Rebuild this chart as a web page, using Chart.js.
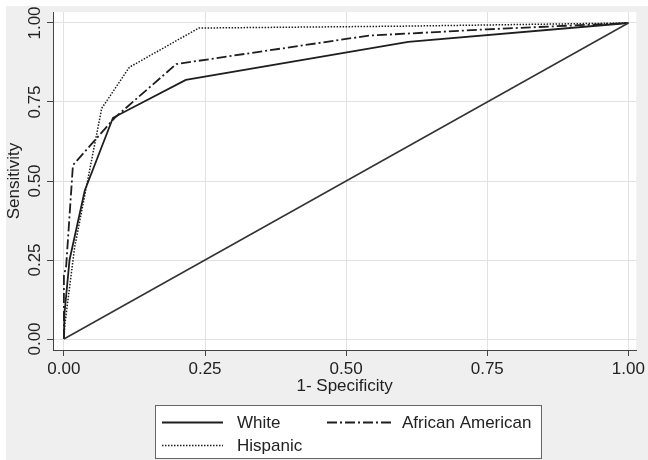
<!DOCTYPE html>
<html><head><meta charset="utf-8">
<script src="https://cdn.jsdelivr.net/npm/chart.js"></script>
<style>html,body{margin:0;padding:0;background:#fff}</style>
</head><body>
<canvas id="c" width="648" height="460"></canvas>
<script>
// ---- data ----
const seriesNames = ['White', 'African American', 'Hispanic'];
const whiteX = [0, 0.001, 0.01, 0.037, 0.087, 0.216, 0.61, 1];
const whiteY = [0, 0.08, 0.25, 0.47, 0.70, 0.82, 0.94, 1];
const afamX = [0, 0, 0.004, 0.016, 0.09, 0.199, 0.54, 0.75, 1];
const afamY = [0, 0.20, 0.23, 0.55, 0.70, 0.87, 0.96, 0.98, 1];
const hispX = [0, 0.002, 0.019, 0.067, 0.116, 0.239, 0.6, 1];
const hispY = [0, 0.05, 0.29, 0.73, 0.86, 0.984, 0.99, 1];
const refX = [0, 1];
const refY = [0, 1];
const xTickValues = [0, 0.25, 0.5, 0.75, 1];
const xTickLabels = ['0.00', '0.25', '0.50', '0.75', '1.00'];
const yTickValues = [0, 0.25, 0.5, 0.75, 1];
const yTickLabels = ['0.00', '0.25', '0.50', '0.75', '1.00'];
const xTitle = '1- Specificity';
const yTitle = 'Sensitivity';

const pts = (xs, ys) => xs.map((x, i) => ({x: x, y: ys[i]}));
const FONT = '"Liberation Sans", Arial, Helvetica, sans-serif';
const TXT = '#222';
const LINE = '#1e1e1e';
const dashes = [[], [10, 3, 2, 3], [1.5, 1.5]];
const widths = [1.8, 1.8, 1.5];

const bgPlugin = {
  id: 'bg',
  beforeDraw(chart) {
    const {ctx, chartArea: a} = chart;
    ctx.save();
    ctx.fillStyle = '#fff';
    ctx.fillRect(0, 0, chart.width, chart.height);
    ctx.fillStyle = '#efefef';
    ctx.fillRect(6, 6, chart.width - 6, chart.height - 6);
    ctx.fillStyle = '#fff';
    ctx.fillRect(a.left, a.top, a.right - a.left, a.bottom - a.top);
    ctx.restore();
  }
};

const legendPlugin = {
  id: 'boxLegend',
  afterDraw(chart) {
    const ctx = chart.ctx;
    ctx.save();
    ctx.fillStyle = '#fff';
    ctx.fillRect(155.5, 405.5, 386, 53);
    ctx.strokeStyle = '#666';
    ctx.lineWidth = 1;
    ctx.strokeRect(155.5, 405.5, 386, 53);
    const items = [
      {x0: 162, x1: 223, y: 422, tx: 237},
      {x0: 327, x1: 393, y: 422, tx: 402},
      {x0: 162, x1: 223, y: 445, tx: 237}
    ];
    items.forEach((it, i) => {
      ctx.beginPath();
      ctx.setLineDash(dashes[i]);
      ctx.lineWidth = widths[i];
      ctx.strokeStyle = LINE;
      ctx.moveTo(it.x0, it.y + 0.5);
      ctx.lineTo(it.x1, it.y + 0.5);
      ctx.stroke();
      ctx.setLineDash([]);
      ctx.fillStyle = TXT;
      ctx.font = '17px ' + FONT;
      ctx.textBaseline = 'middle';
      ctx.textAlign = 'left';
      ctx.fillText(seriesNames[i], it.tx, it.y + 1);
    });
    ctx.restore();
  }
};

const mk = (label, xs, ys, i) => ({
  label: label, data: pts(xs, ys), showLine: true, pointRadius: 0,
  borderColor: LINE, borderWidth: widths[i], borderDash: dashes[i], fill: false, tension: 0
});

new Chart(document.getElementById('c'), {
  type: 'scatter',
  data: {
    datasets: [
      {label: 'reference', data: pts(refX, refY), showLine: true, pointRadius: 0, borderColor: '#333', borderWidth: 1.5, fill: false},
      mk(seriesNames[0], whiteX, whiteY, 0),
      mk(seriesNames[1], afamX, afamY, 1),
      mk(seriesNames[2], hispX, hispY, 2)
    ]
  },
  options: {
    responsive: false,
    animation: false,
    events: [],
    layout: {padding: {left: 0, top: 12, right: 7, bottom: 0}},
    plugins: {legend: {display: false}, tooltip: {enabled: false}},
    scales: {
      x: {
        type: 'linear', min: -0.0193, max: 1.014,
        afterBuildTicks: s => { s.ticks = xTickValues.map(v => ({value: v})); },
        afterFit: s => { s.height = 110; },
        ticks: {callback: v => xTickLabels[xTickValues.indexOf(v)], font: {family: FONT, size: 17}, color: TXT, padding: 3, maxRotation: 0},
        grid: {color: '#e2e2e2', tickColor: '#444', tickLength: 6, lineWidth: 1},
        border: {color: '#444', width: 1},
        title: {display: true, text: xTitle, font: {family: FONT, size: 17}, color: TXT, padding: {top: 0, bottom: 63}}
      },
      y: {
        type: 'linear', min: -0.0348, max: 1.0348,
        afterBuildTicks: s => { s.ticks = yTickValues.map(v => ({value: v})); },
        afterFit: s => { s.width = 53; },
        ticks: {callback: v => yTickLabels[yTickValues.indexOf(v)], font: {family: FONT, size: 17}, color: TXT, padding: -4.5, minRotation: 90, maxRotation: 90, crossAlign: 'center'},
        grid: {color: '#e2e2e2', tickColor: '#444', tickLength: 6, lineWidth: 1},
        border: {color: '#444', width: 1},
        title: {display: true, text: yTitle, font: {family: FONT, size: 17}, color: TXT, padding: {top: 4, bottom: 0}}
      }
    }
  },
  plugins: [bgPlugin, legendPlugin]
});
</script>
</body></html>
